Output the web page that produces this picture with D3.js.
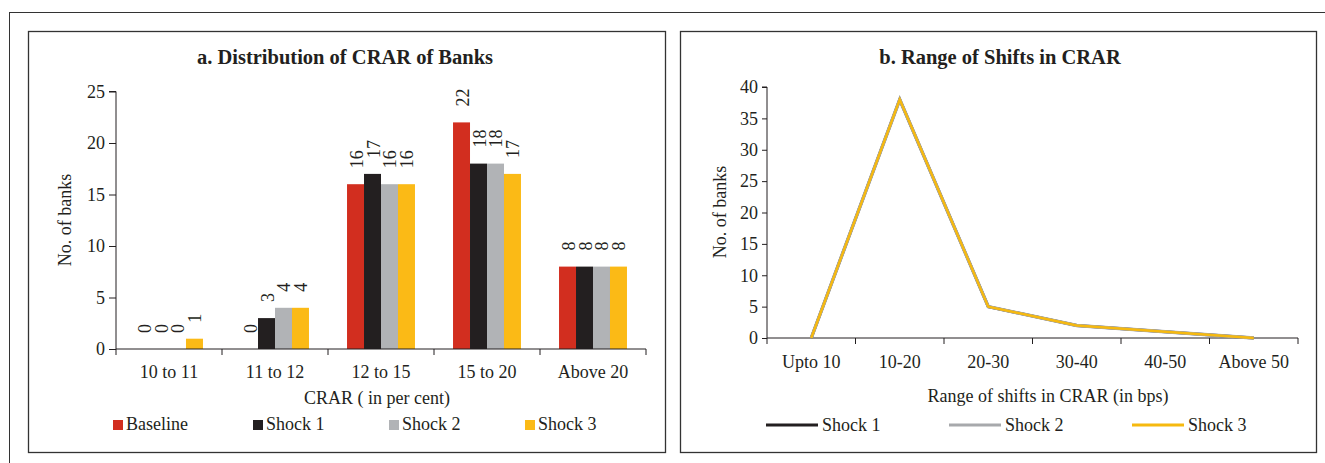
<!DOCTYPE html>
<html>
<head>
<meta charset="utf-8">
<script src="https://cdn.jsdelivr.net/npm/d3@7"></script>
<style>
  html, body { margin: 0; padding: 0; background: #fff; }
  svg text { font-family: "Liberation Serif", "DejaVu Serif", serif; fill: #231f20; }
</style>
</head>
<body>
<svg id="chart" width="1325" height="463"></svg>
<script>
// ---- Data ----
const crarCategories = ["10 to 11", "11 to 12", "12 to 15", "15 to 20", "Above 20"];
const barSeriesNames = ["Baseline", "Shock 1", "Shock 2", "Shock 3"];
const baselineValues = [0, 0, 16, 22, 8];
const shock1Values = [0, 3, 17, 18, 8];
const shock2Values = [0, 4, 16, 18, 8];
const shock3Values = [1, 4, 16, 17, 8];
const leftYTicks = [0, 5, 10, 15, 20, 25];

const shiftCategories = ["Upto 10", "10-20", "20-30", "30-40", "40-50", "Above 50"];
const lineSeriesNames = ["Shock 1", "Shock 2", "Shock 3"];
const shiftShock1 = [0, 38, 5, 2, 1, 0];
const shiftShock2 = [0, 38, 5, 2, 1, 0];
const shiftShock3 = [0, 38, 5, 2, 1, 0];
const rightYTicks = [0, 5, 10, 15, 20, 25, 30, 35, 40];

const barColors = {"Baseline": "#d22e1f", "Shock 1": "#231f20", "Shock 2": "#b1b3b6", "Shock 3": "#fbba16"};
const lineColors = {"Shock 1": "#231f20", "Shock 2": "#a7a9ac", "Shock 3": "#f6b90f"};

const FS = 18;
const svg = d3.select("#chart");

// ---- Frames ----
svg.append("rect").attr("x", 9.5).attr("y", 12.5).attr("width", 1330).attr("height", 470)
  .attr("fill", "none").attr("stroke", "#333").attr("stroke-width", 1);
svg.append("rect").attr("x", 28.5).attr("y", 31.5).attr("width", 637).attr("height", 421)
  .attr("fill", "#fff").attr("stroke", "#333").attr("stroke-width", 1.3);
svg.append("rect").attr("x", 680.5).attr("y", 31.5).attr("width", 636).attr("height", 421)
  .attr("fill", "#fff").attr("stroke", "#333").attr("stroke-width", 1.3);

// ================= LEFT: bar chart =================
(function() {
  const g = svg.append("g");
  const x = d3.scaleBand().domain(crarCategories).range([116, 646]).paddingInner(0).paddingOuter(0);
  const xs = d3.scaleBand().domain(barSeriesNames).range([0, x.bandwidth()]).paddingInner(0).paddingOuter(1.12);
  const y = d3.scaleLinear().domain([0, 25]).range([349, 91.5]);
  const seriesData = {
    "Baseline": baselineValues, "Shock 1": shock1Values,
    "Shock 2": shock2Values, "Shock 3": shock3Values
  };

  g.append("text").attr("x", 345).attr("y", 64).attr("text-anchor", "middle")
    .attr("font-size", 20.5).attr("font-weight", "bold").text("a. Distribution of CRAR of Banks");

  // bars
  barSeriesNames.forEach(s => {
    const vals = seriesData[s];
    g.selectAll(null).data(crarCategories.map((c, i) => ({c, v: vals[i]}))).enter()
      .append("rect")
      .attr("x", d => x(d.c) + xs(s))
      .attr("width", xs.bandwidth())
      .attr("y", d => y(d.v))
      .attr("height", d => y(0) - y(d.v))
      .attr("fill", barColors[s]);
    g.selectAll(null).data(crarCategories.map((c, i) => ({c, v: vals[i]}))).enter()
      .append("text")
      .attr("transform", d => `translate(${x(d.c) + xs(s) + xs.bandwidth() / 2 + 7},${y(d.v) - 16}) rotate(-90)`)
      .attr("font-size", FS)
      .text(d => d.v);
  });

  // y axis
  const yAxis = d3.axisLeft(y).tickValues(leftYTicks).tickSize(7).tickPadding(4);
  const ya = g.append("g").attr("transform", "translate(116,0)").call(yAxis);
  ya.selectAll("text").attr("font-size", FS).style("font-family", "Liberation Serif");
  ya.selectAll("line,path").attr("stroke", "#231f20");
  ya.select(".domain").attr("d", `M-7,${y(25)}H0V${y(0)}`);

  // x axis
  const xAxis = d3.axisBottom(x).tickSize(0).tickPadding(16);
  const xa = g.append("g").attr("transform", "translate(0,349)").call(xAxis);
  xa.selectAll("text").attr("font-size", FS).style("font-family", "Liberation Serif");
  xa.select(".domain").attr("stroke", "#231f20").attr("d", "M116,0H646");
  const bounds = crarCategories.map(c => x(c)).concat([x(crarCategories[crarCategories.length - 1]) + x.bandwidth()]);
  xa.selectAll(null).data(bounds).enter().append("line")
    .attr("x1", d => d).attr("x2", d => d).attr("y1", 0).attr("y2", 6).attr("stroke", "#231f20");

  g.append("text").attr("transform", "translate(71,220) rotate(-90)").attr("text-anchor", "middle")
    .attr("font-size", FS).text("No. of banks");
  g.append("text").attr("x", 377).attr("y", 404).attr("text-anchor", "middle")
    .attr("font-size", FS).text("CRAR ( in per cent)");

  // legend
  const legendX = [113, 253, 389, 525];
  barSeriesNames.forEach((s, i) => {
    g.append("rect").attr("x", legendX[i]).attr("y", 420).attr("width", 10).attr("height", 10).attr("fill", barColors[s]);
    g.append("text").attr("x", legendX[i] + 13).attr("y", 430).attr("font-size", FS).text(s);
  });
})();

// ================= RIGHT: line chart =================
(function() {
  const g = svg.append("g");
  const x = d3.scaleBand().domain(shiftCategories).range([767, 1298]).paddingInner(0).paddingOuter(0);
  const y = d3.scaleLinear().domain([0, 40]).range([338, 87]);
  const seriesData = {"Shock 1": shiftShock1, "Shock 2": shiftShock2, "Shock 3": shiftShock3};

  g.append("text").attr("x", 1000).attr("y", 64).attr("text-anchor", "middle")
    .attr("font-size", 20.5).attr("font-weight", "bold").text("b. Range of Shifts in CRAR");

  // y axis
  const yAxis = d3.axisLeft(y).tickValues(rightYTicks).tickSize(5).tickPadding(4);
  const ya = g.append("g").attr("transform", "translate(767,0)").call(yAxis);
  ya.selectAll("text").attr("font-size", FS).style("font-family", "Liberation Serif");
  ya.selectAll("line,path").attr("stroke", "#231f20");
  ya.select(".domain").attr("d", `M-5,${y(40)}H0V${y(0)}`);

  // x axis
  const xAxis = d3.axisBottom(x).tickSize(0).tickPadding(17);
  const xa = g.append("g").attr("transform", "translate(0,338)").call(xAxis);
  xa.selectAll("text").attr("font-size", FS).style("font-family", "Liberation Serif");
  xa.select(".domain").attr("stroke", "#231f20").attr("d", "M767,0H1298");
  const bounds = shiftCategories.map(c => x(c)).concat([x(shiftCategories[shiftCategories.length - 1]) + x.bandwidth()]);
  xa.selectAll(null).data(bounds).enter().append("line")
    .attr("x1", d => d).attr("x2", d => d).attr("y1", 0).attr("y2", 6).attr("stroke", "#231f20");

  // lines
  const line = d3.line().x((d, i) => x(shiftCategories[i]) + x.bandwidth() / 2).y(d => y(d));
  const widths = {"Shock 1": 3, "Shock 2": 3.4, "Shock 3": 2.4};
  lineSeriesNames.forEach(s => {
    g.append("path").datum(seriesData[s]).attr("d", line)
      .attr("fill", "none").attr("stroke", lineColors[s]).attr("stroke-width", widths[s])
      .attr("stroke-linejoin", "miter");
  });

  g.append("text").attr("transform", "translate(726,212) rotate(-90)").attr("text-anchor", "middle")
    .attr("font-size", FS).text("No. of banks");
  g.append("text").attr("x", 1048).attr("y", 402).attr("text-anchor", "middle")
    .attr("font-size", FS).text("Range of shifts in CRAR (in bps)");

  // legend
  const legendX = [766, 949, 1132];
  lineSeriesNames.forEach((s, i) => {
    g.append("line").attr("x1", legendX[i]).attr("x2", legendX[i] + 52).attr("y1", 425).attr("y2", 425)
      .attr("stroke", lineColors[s]).attr("stroke-width", 3);
    g.append("text").attr("x", legendX[i] + 56).attr("y", 431).attr("font-size", FS).text(s);
  });
})();
</script>
</body>
</html>
